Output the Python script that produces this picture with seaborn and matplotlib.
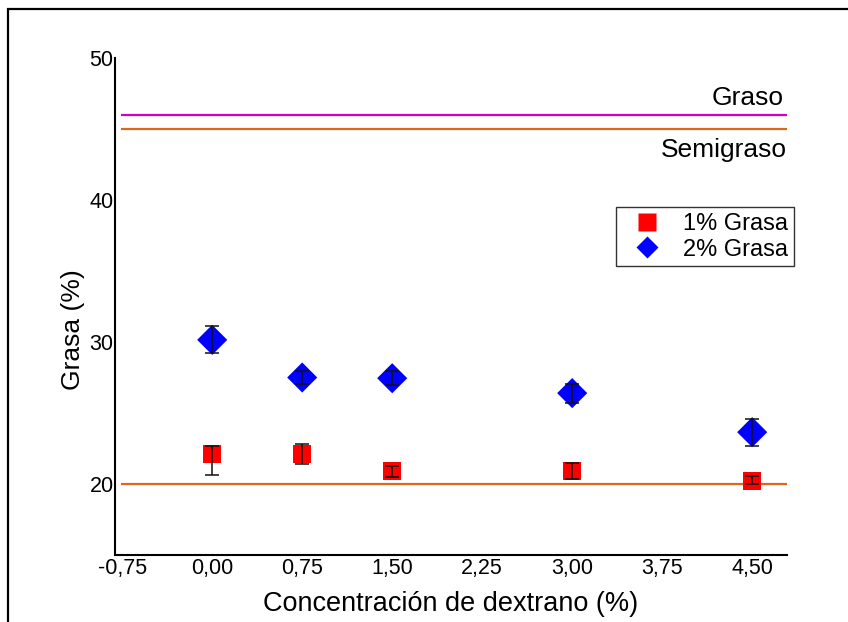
import matplotlib
matplotlib.use("Agg")
import matplotlib.pyplot as plt
import seaborn as sns
import pandas as pd
from matplotlib.patches import Rectangle
from matplotlib.lines import Line2D

# ---- data ----
conc = [0.00, 0.75, 1.50, 3.00, 4.50]
grasa_1 = [22.1, 22.1, 20.9, 20.9, 20.2]
err1_low = [1.45, 0.7, 0.4, 0.55, 0.2]
err1_high = [0.6, 0.75, 0.4, 0.55, 0.35]
grasa_2 = [30.15, 27.5, 27.45, 26.4, 23.65]
err2_low = [0.95, 0.45, 0.5, 0.7, 0.95]
err2_high = [1.0, 0.45, 0.5, 0.65, 0.95]
series = ["1% Grasa", "2% Grasa"]
xticks = [-0.75, 0.00, 0.75, 1.50, 2.25, 3.00, 3.75, 4.50]
xticklabels = ["-0,75", "0,00", "0,75", "1,50", "2,25", "3,00", "3,75", "4,50"]
yticks = [20, 30, 40, 50]
ref_values = [46, 45, 20]
ref_labels = ["Graso", "Semigraso", ""]

df = pd.DataFrame({
    "conc": conc + conc,
    "grasa": grasa_1 + grasa_2,
    "serie": [series[0]] * len(conc) + [series[1]] * len(conc),
})

sns.set_style("white")
plt.rcParams["font.family"] = ["Liberation Sans", "DejaVu Sans"]
plt.rcParams["text.color"] = "black"
plt.rcParams["axes.labelcolor"] = "black"

fig = plt.figure(figsize=(8.48, 6.22), dpi=100)
ax = fig.add_axes([115 / 848, 1 - 555 / 622, 672 / 848, 497 / 622])

# reference lines
ref_colors = ["#CC00CC", "#E0661A", "#E0661A"]
for v, c in zip(ref_values, ref_colors):
    ax.hlines(v, -0.76, 4.79, color=c, lw=1.6, zorder=1)

sns.scatterplot(data=df, x="conc", y="grasa", hue="serie", style="serie",
                size="serie", sizes={series[0]: 165, series[1]: 235},
                markers={series[0]: "s", series[1]: "D"},
                palette={series[0]: "#FF0000", series[1]: "#0000FF"},
                edgecolor="none", ax=ax, zorder=3, legend=False)

ax.errorbar(conc, grasa_1, yerr=[err1_low, err1_high], fmt="none",
            ecolor="#111111", elinewidth=1.1, capsize=5, capthick=1.1, zorder=4)
ax.errorbar(conc, grasa_2, yerr=[err2_low, err2_high], fmt="none",
            ecolor="#111111", elinewidth=1.1, capsize=5, capthick=1.1, zorder=4)

ax.text(4.76, 47.2, ref_labels[0], ha="right", va="center", fontsize=19, color="black")
ax.text(4.79, 43.5, ref_labels[1], ha="right", va="center", fontsize=19, color="black")

ax.set_xlim(-0.81, 4.79)
ax.set_ylim(15, 50)
ax.set_xticks(xticks)
ax.set_xticklabels(xticklabels)
ax.set_yticks(yticks)
ax.tick_params(axis="both", length=0, labelsize=15.5, colors="black")
ax.tick_params(axis="x", pad=2)
ax.tick_params(axis="y", pad=1)
ax.set_xlabel("Concentración de dextrano (%)", fontsize=19.5, labelpad=9, color="black")
ax.set_ylabel("Grasa (%)", fontsize=19, color="black")
ax.yaxis.set_label_coords(-0.045, 0.453)

for s in ["top", "right"]:
    ax.spines[s].set_visible(False)
for s in ["left", "bottom"]:
    ax.spines[s].set_color("black")
    ax.spines[s].set_linewidth(1.5)

handles = [
    Line2D([], [], ls="none", marker="s", markersize=12.3, color="#FF0000", markeredgecolor="none"),
    Line2D([], [], ls="none", marker="D", markersize=11.5, color="#0000FF", markeredgecolor="none"),
]
leg = ax.legend(handles, series, loc="upper right", bbox_to_anchor=(1.01, 0.70),
                borderaxespad=0, fontsize=17, frameon=True, fancybox=False,
                handletextpad=0.4, borderpad=0.25, labelspacing=0.15,
                handlelength=2.2)
leg.get_frame().set_edgecolor("black")
leg.get_frame().set_linewidth(1.0)
for t in leg.get_texts():
    t.set_color("black")

fig.add_artist(Rectangle((8 / 848, -0.1), 1.2, 1.1 - 9 / 622,
                         transform=fig.transFigure, fill=False,
                         edgecolor="black", lw=1.6, clip_on=False))

fig.savefig("out.png", dpi=100)
